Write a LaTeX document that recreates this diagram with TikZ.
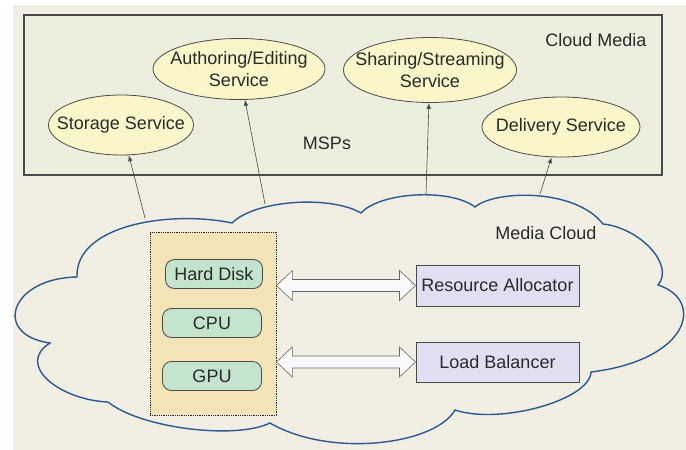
\documentclass[tikz,border=0pt]{standalone}
\usepackage{fontspec}
\setmainfont{Liberation Sans}
\usetikzlibrary{shapes.geometric,arrows.meta,calc}
\definecolor{bg}{HTML}{F1EEE4}
\definecolor{cmfill}{HTML}{EEEEDF}
\definecolor{ellfill}{HTML}{FBF6C9}
\definecolor{storefill}{HTML}{F3E4B8}
\definecolor{pillfill}{HTML}{C4E4CD}
\definecolor{boxfill}{HTML}{E1E0F3}
\definecolor{cloudblue}{HTML}{2C5A8E}
\definecolor{txt}{HTML}{2A2A2A}
\definecolor{edge}{HTML}{4A4A4A}
\tikzset{
  lbl/.style={font=\fontsize{18}{22}\selectfont, text=txt, inner sep=0pt},
  svc/.style={ellipse, draw=edge, line width=0.8pt, fill=ellfill, inner sep=0pt},
  svctext/.style={label={[lbl, align=center]center:#1}},
  pill/.style={lbl, rounded corners=9pt, draw=edge, line width=0.8pt, fill=pillfill, minimum width=99pt, minimum height=29pt},
  mgr/.style={lbl, rectangle, draw=edge, line width=1pt, fill=boxfill, minimum width=163pt, minimum height=41pt},
  uparrow/.style={draw=edge, line width=0.6pt, -{Latex[length=6pt,width=4.5pt]}},
  blockarrow/.style={draw=gray!80!black, line width=0.6pt, fill=white!95!gray},
  cloudline/.style={draw=cloudblue, line width=1.4pt, line join=miter}
}
\begin{document}
\begin{tikzpicture}[x=1pt,y=-1pt]
\useasboundingbox (0,0) rectangle (686,450);
\fill[bg] (13,5) rectangle (686,450);

% Cloud Media box
\node[draw=edge, line width=1.2pt, fill=cmfill, minimum width=638pt, minimum height=160pt, inner sep=0pt] (cm) at (343,95) {};
\node[lbl] (cmlabel) at (596,40) {Cloud Media};
\node[lbl] (msps) at (327,143) {MSPs};

% services
\node[svc, minimum width=145pt, minimum height=60pt, svctext={Storage Service}] (st) at (121,125) {};
\node[svc, minimum width=172pt, minimum height=61pt, svctext={Authoring/Editing\\Service}] (ae) at (239,69) {};
\node[svc, minimum width=173pt, minimum height=65pt, svctext={Sharing/Streaming\\Service}] (ss) at (430,70) {};
\node[svc, minimum width=158pt, minimum height=60pt, svctext={Delivery Service}] (ds) at (561,127) {};

% media cloud
\draw[cloudline, fill=bg]
  (77,277) .. controls (75,225) and (170,210) .. (232,223)
  .. controls (255,200) and (330,195) .. (361,213)
  .. controls (380,192) and (450,188) .. (475,207)
  .. controls (495,190) and (575,188) .. (603,224)
  .. controls (640,228) and (675,265) .. (658,285)
  .. controls (705,300) and (690,360) .. (591,372)
  .. controls (590,400) and (500,425) .. (455,410)
  .. controls (435,445) and (330,458) .. (270,423)
  .. controls (235,440) and (140,428) .. (108,402)
  .. controls (60,400) and (15,365) .. (50,343)
  .. controls (-8,335) and (10,278) .. (77,277) -- cycle;
\node[lbl] (mc) at (546,233) {Media Cloud};

% connectors to services
\coordinate (p1) at (145,218);
\coordinate (p2) at (265,204);
\coordinate (p3) at (426,194);
\coordinate (p4) at (540,194);
\draw[uparrow] (p1) -- (st);
\draw[uparrow] (p2) -- (ae);
\draw[uparrow] (p3) -- (ss);
\draw[uparrow] (p4) -- (ds);

% resources
\node[draw=black!85, line width=0.8pt, densely dotted, fill=storefill, minimum width=126pt, minimum height=183pt, inner sep=0pt] (store) at (213,323.5) {};
\node[pill, minimum width=97pt] (hd) at (214,274) {Hard Disk};
\node[pill] (cpu) at (212,323) {CPU};
\node[pill] (gpu) at (212,376) {GPU};

\node[mgr] (ra) at (497.5,285.5) {Resource Allocator};
\node[mgr, minimum height=40pt] (lb) at (497.5,362) {Load Balancer};

% block double arrows
\foreach \tgt in {ra,lb}{
  \coordinate (L) at (store.east |- \tgt.west);
  \coordinate (R) at (\tgt.west);
  \draw[blockarrow] (L) -- ($(L)+(16,-15)$) -- ($(L)+(16,-6)$) -- ($(R)+(-16,-6)$)
    -- ($(R)+(-16,-15)$) -- (R) -- ($(R)+(-16,15)$) -- ($(R)+(-16,6)$)
    -- ($(L)+(16,6)$) -- ($(L)+(16,15)$) -- cycle;
}
\end{tikzpicture}
\end{document}
